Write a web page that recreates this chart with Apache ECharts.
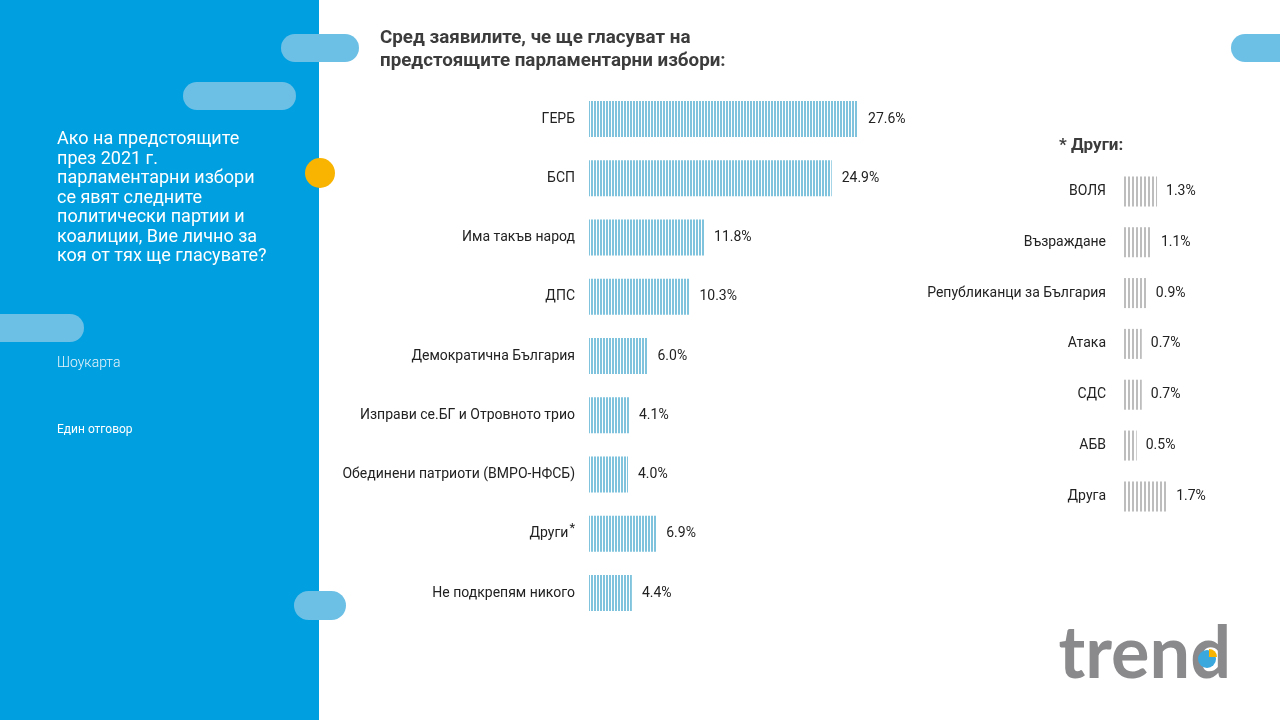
<!DOCTYPE html>
<html><head><meta charset="utf-8">
<script src="https://cdn.jsdelivr.net/npm/echarts@6/dist/echarts.min.js"></script>
<style>html,body{margin:0;padding:0;background:#fff;}#c{width:1280px;height:720px;}</style>
</head><body><div id="c"></div>
<script>
var mainCategories = ['ГЕРБ','БСП','Има такъв народ','ДПС','Демократична България','Изправи се.БГ и Отровното трио','Обединени патриоти (ВМРО-НФСБ)','Други*','Не подкрепям никого'];
var mainValues = [27.6, 24.9, 11.8, 10.3, 6.0, 4.1, 4.0, 6.9, 4.4];
var otherCategories = ['ВОЛЯ','Възраждане','Републиканци за България','Атака','СДС','АБВ','Друга'];
var otherValues = [1.3, 1.1, 0.9, 0.7, 0.7, 0.5, 1.7];
var titleLines = ['Сред заявилите, че ще гласуват на', 'предстоящите парламентарни избори:'];
var questionText = 'Ако на предстоящите\nпрез 2021 г.\nпарламентарни избори\nсе явят следните\nполитически партии и\nкоалиции, Вие лично за\nкоя от тях ще гласувате?';

function stripe(col, on, period){
  var c = document.createElement('canvas');
  c.width = period; c.height = 4;
  var g = c.getContext('2d');
  g.fillStyle = '#ffffff'; g.fillRect(0,0,period,4);
  g.fillStyle = col; g.fillRect(0,0,on,4);
  return c;
}
var bluePat = {image: stripe('#7fc3dd', 2, 3), repeat: 'repeat'};
var grayPat = {image: stripe('#bdbdbd', 2, 4), repeat: 'repeat'};

var chart = echarts.init(document.getElementById('c'), null, {renderer:'canvas'});
var FONT = 'Roboto';
var pill = function(x,y,w,h){ return {type:'rect', shape:{x:x,y:y,width:w,height:h,r:h/2}, style:{fill:'#6cc0e6'}, z:2}; };

chart.setOption({
  animation:false,
  backgroundColor:'#ffffff',
  textStyle:{fontFamily:FONT},
  graphic:[
    {type:'rect', shape:{x:0,y:0,width:319,height:720}, style:{fill:'#009fdf'}, z:1},
    pill(281,34,78,28), pill(183,82,113,28), pill(-20,314,104,28), pill(294,591,52,29), pill(1231,34,70,28),
    {type:'circle', shape:{cx:320,cy:173,r:15}, style:{fill:'#f8b400'}, z:3},
    {type:'text', left:57, top:130, z:3, style:{text:questionText, fill:'#ffffff', font:'18px Roboto', lineHeight:19.5}},
    {type:'text', left:57, top:356, z:3, style:{text:'Шоукарта', fill:'#e8f4fb', font:'300 14px Roboto'}},
    {type:'text', left:57, top:424, z:3, style:{text:'Един отговор', fill:'#ffffff', font:'12px Roboto'}},
    {type:'text', left:380, top:27, z:3, style:{text:titleLines.join('\n'), fill:'#3c3c3c', font:'bold 18.8px Roboto', lineHeight:23}},
    {type:'text', left:1059, top:137, z:3, style:{text:'* Други:', fill:'#3c3c3c', font:'bold 17px Roboto'}},
    {type:'text', z:3, style:{x:1231, y:619, text:'trend', textAlign:'right', fill:'#8a8a8c', font:'bold 72px Lato'}},
    {type:'circle', shape:{cx:1207,cy:659,r:9}, style:{fill:'#3aa7dd'}, z:4},
    {type:'sector', shape:{cx:1209,cy:657,r:8,r0:0,startAngle:-Math.PI/2,endAngle:0}, style:{fill:'#f8b400'}, z:5}
  ],
  grid:[
    {left:589, top:89.4, width:292.4, height:533.25},
    {left:1124, top:166, width:101.6, height:355.8}
  ],
  xAxis:[
    {gridIndex:0, type:'value', min:0, max:30, show:false},
    {gridIndex:1, type:'value', min:0, max:4, show:false}
  ],
  yAxis:[
    {gridIndex:0, type:'category', inverse:true, data:mainCategories,
     axisLine:{show:false}, axisTick:{show:false},
     axisLabel:{margin:14, color:'#222', fontSize:14, fontFamily:FONT,
       formatter:function(v){ return v.slice(-1)==='*' ? v.slice(0,-1)+'{s|*}' : v; },
       rich:{s:{fontSize:13, color:'#222', verticalAlign:'top', padding:[0,0,10,1]}}}},
    {gridIndex:1, type:'category', inverse:true, data:otherCategories,
     axisLine:{show:false}, axisTick:{show:false},
     axisLabel:{margin:18, color:'#222', fontSize:14, fontFamily:FONT}}
  ],
  series:[
    {type:'bar', xAxisIndex:0, yAxisIndex:0, data:mainValues, barWidth:36,
     itemStyle:{color:bluePat},
     label:{show:true, position:'right', distance:10, color:'#222', fontSize:14, fontFamily:FONT,
       formatter:function(p){return p.value.toFixed(1)+'%';}}},
    {type:'bar', xAxisIndex:1, yAxisIndex:1, data:otherValues, barWidth:30,
     itemStyle:{color:grayPat},
     label:{show:true, position:'right', distance:9, color:'#222', fontSize:14, fontFamily:FONT,
       formatter:function(p){return p.value.toFixed(1)+'%';}}}
  ]
});
</script></body></html>
